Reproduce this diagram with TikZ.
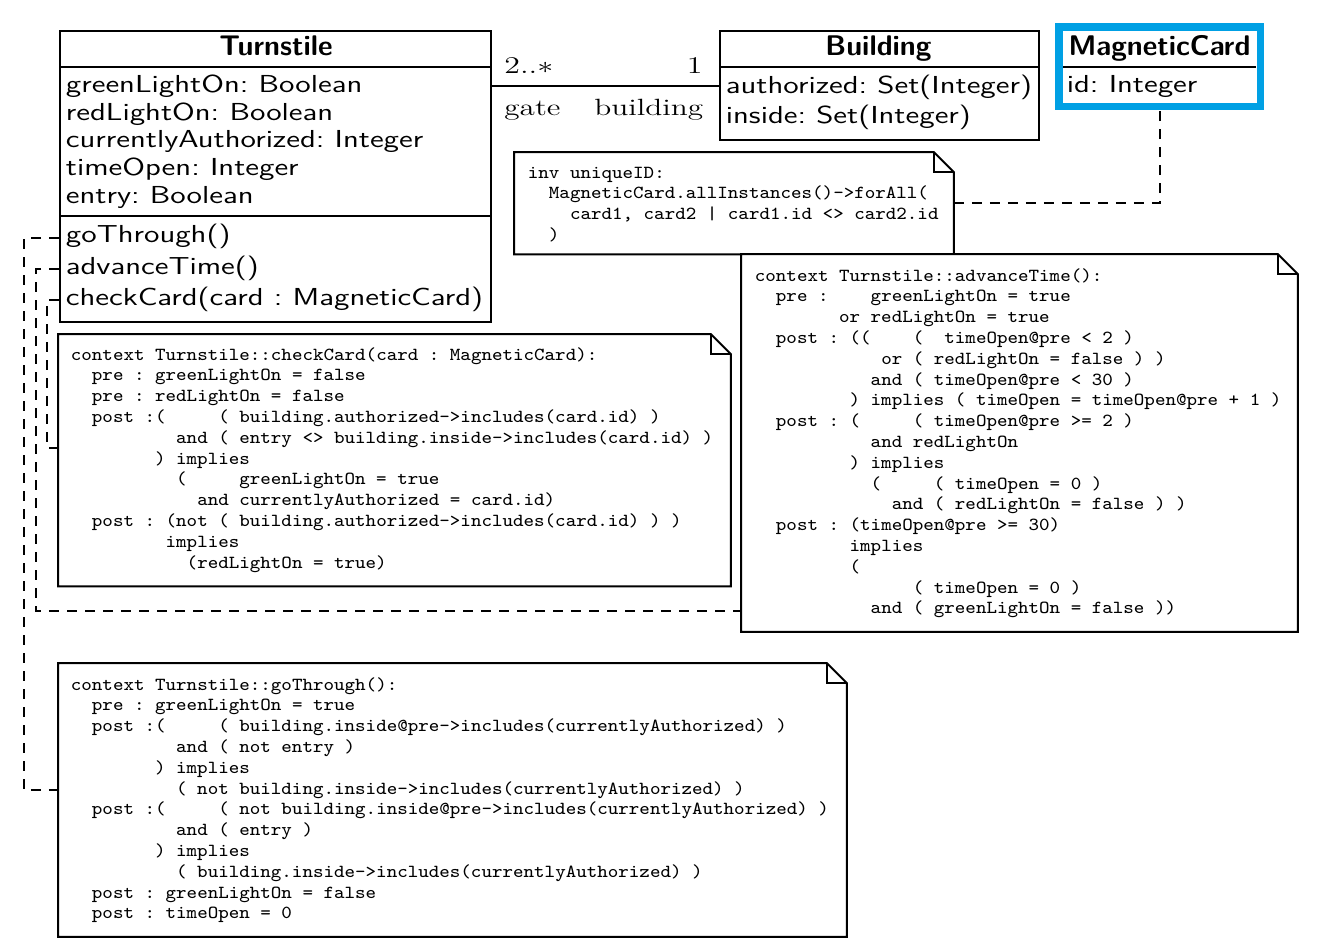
\documentclass[tikz,border=0pt]{standalone}
\usepackage{graphicx}
\definecolor{cardblue}{RGB}{0,160,228}

% horizontally widened text
\newcommand\wx[2]{\scalebox{#1}[1]{#2}}
\newcommand\hdrfont{\fontsize{14.2}{16}\selectfont\sffamily\bfseries}
\newcommand\clsfont{\fontsize{12.3}{14}\selectfont\sffamily}
\newcommand\rolefont{\fontsize{11.75}{14}\selectfont\rmfamily}
\newcommand\oclfont{\fontsize{9.2}{10.4}\selectfont\ttfamily}
% one block of OCL text, one line per row
\newcommand\ocl[1]{\wx{1.09}{\oclfont\begin{tabular}[t]{@{}l@{}}#1\end{tabular}}}

\tikzset{
  box/.style={draw, line width=1pt, inner sep=0pt, anchor=north west},
  sep/.style={line width=1pt},
  hdr/.style={inner sep=0pt, anchor=base, font=\hdrfont},
  attr/.style={inner sep=0pt, anchor=base west, font=\clsfont},
  role/.style={inner sep=0pt, font=\rolefont},
  notearea/.style={inner sep=0pt, anchor=north west},
  notebody/.style={inner sep=0pt, anchor=base west},
  noteframe/.style={line width=1pt, fill=white},
  conn/.style={line width=1pt, dash pattern=on 5pt off 4pt},
}

% dog-eared outline of a note node
\newcommand\notefold[1]{%
  \draw[noteframe] (#1.north west) -- ([xshift=-10pt]#1.north east)
    -- ([yshift=-10pt]#1.north east) -- (#1.south east) -- (#1.south west) -- cycle;
  \draw[line width=1pt] ([xshift=-10pt]#1.north east)
    -- ([xshift=-10pt,yshift=-10pt]#1.north east) -- ([yshift=-10pt]#1.north east);}

\begin{document}
\frenchspacing
\begin{tikzpicture}[x=0.5pt,y=-0.5pt]
\useasboundingbox (0,0) rectangle (1324,948);

% guide coordinates
\path (0,66.7) coordinate (hdrline) (0,216) coordinate (opline) (0,85.7) coordinate (assoc)
      (0,238) coordinate (yGo) (0,269) coordinate (yAdv) (0,300) coordinate (yChk)
      (24,0) coordinate (xGo) (36,0) coordinate (xAdv) (47,0) coordinate (xChk)
      (0,790) coordinate (yGoIn) (0,611) coordinate (yAdvIn) (0,448) coordinate (yChkIn)
      (1160,0) coordinate (xCard) (0,203) coordinate (yUid);

% ---------- classes ----------
\node[box, minimum width=215.5pt, minimum height=145.5pt] (ts) at (59,30) {};
\draw[sep] (ts.west |- hdrline) -- (ts.east |- hdrline);
\draw[sep] (ts.west |- opline) -- (ts.east |- opline);
\node[hdr] (tsName) at (276,55) {Turnstile};
\node[attr] (tsA1) at (65.5,92.7)  {\wx{1.28}{greenLightOn: Boolean}};
\node[attr] (tsA2) at (65.5,120.3) {\wx{1.28}{redLightOn: Boolean}};
\node[attr] (tsA3) at (65.5,147.9) {\wx{1.28}{currentlyAuthorized: Integer}};
\node[attr] (tsA4) at (65.5,175.5) {\wx{1.28}{timeOpen: Integer}};
\node[attr] (tsA5) at (65.5,203.1) {\wx{1.28}{entry: Boolean}};
\node[attr] (tsO1) at (65.5,242.5) {\wx{1.28}{goThrough()}};
\node[attr] (tsO2) at (65.5,274)   {\wx{1.28}{advanceTime()}};
\node[attr] (tsO3) at (65.5,305.5) {\wx{1.28}{checkCard(card : MagneticCard)}};

\node[box, minimum width=159.5pt, minimum height=54.5pt] (bd) at (719,30) {};
\draw[sep] (bd.west |- hdrline) -- (bd.east |- hdrline);
\node[hdr] (bdName) at (878.5,55) {Building};
\node[attr] (bdA1) at (725.5,93.5) {\wx{1.28}{authorized: Set(Integer)}};
\node[attr] (bdA2) at (725.5,123)  {\wx{1.28}{inside: Set(Integer)}};

% association gate -- building
\draw[sep] (ts.east |- assoc) -- (bd.west |- assoc);
\node[role, anchor=base west] (mGate) at (504,73.3) {\wx{1.33}{$2..*$}};
\node[role, anchor=base east] (mBld) at (703,73.3) {\wx{1.33}{$1$}};
\node[role, anchor=base west] (rGate) at (504,115.7) {\wx{1.33}{gate}};
\node[role, anchor=base east] (rBld) at (703.5,115.7) {\wx{1.33}{building}};

% ---------- notes and their links ----------
\node[notearea, minimum width=219.5pt, minimum height=50.75pt] (nUid) at (514,152) {};
\node[notearea, minimum width=278pt, minimum height=188.5pt] (nAdv) at (741,254) {};
\node[notearea, minimum width=336pt, minimum height=125.75pt] (nChk) at (58,334) {};
\node[notearea, minimum width=394pt, minimum height=136.5pt] (nGo) at (58,663) {};

\node[draw=none, inner sep=0pt, minimum width=100.25pt, minimum height=39.25pt, anchor=north west] (mc) at (1059,27) {};

\draw[conn] (ts.west |- yGo) -| (xGo |- yGoIn) -- (nGo.west |- yGoIn);
\draw[conn] (ts.west |- yAdv) -| (xAdv |- yAdvIn) -- (nAdv.west |- yAdvIn);
\draw[conn] (ts.west |- yChk) -| (xChk |- yChkIn) -- (nChk.west |- yChkIn);
\draw[conn] (nUid.east |- yUid) -| (mc.south -| xCard);

\notefold{nUid}
\notefold{nAdv}
\notefold{nChk}
\notefold{nGo}

\node[notebody] (tUid) at (527.5,178) {\ocl{%
inv uniqueID:\\
~~MagneticCard.allInstances()->forAll(\\
~~~~card1, card2 | card1.id <> card2.id\\
~~)}};

\node[notebody] (tAdv) at (754.5,281) {\ocl{%
context Turnstile::advanceTime():\\
~~pre :~~~~greenLightOn = true\\
~~~~~~~~or redLightOn = true\\
~~post : ((~~~~(~~timeOpen@pre < 2 )\\
~~~~~~~~~~~~or ( redLightOn = false ) )\\
~~~~~~~~~~~and ( timeOpen@pre < 30 )\\
~~~~~~~~~) implies ( timeOpen = timeOpen@pre + 1 )\\
~~post : (~~~~~( timeOpen@pre >= 2 )\\
~~~~~~~~~~~and redLightOn\\
~~~~~~~~~) implies\\
~~~~~~~~~~~(~~~~~( timeOpen = 0 )\\
~~~~~~~~~~~~~and ( redLightOn = false ) )\\
~~post : (timeOpen@pre >= 30)\\
~~~~~~~~~implies\\
~~~~~~~~~(\\
~~~~~~~~~~~~~~~( timeOpen = 0 )\\
~~~~~~~~~~~and ( greenLightOn = false ))}};

\node[notebody] (tChk) at (70.5,360) {\ocl{%
context Turnstile::checkCard(card : MagneticCard):\\
~~pre : greenLightOn = false\\
~~pre : redLightOn = false\\
~~post :(~~~~~( building.authorized->includes(card.id) )\\
~~~~~~~~~~and ( entry <> building.inside->includes(card.id) )\\
~~~~~~~~) implies\\
~~~~~~~~~~(~~~~~greenLightOn = true\\
~~~~~~~~~~~~and currentlyAuthorized = card.id)\\
~~post : (not ( building.authorized->includes(card.id) ) )\\
~~~~~~~~~implies\\
~~~~~~~~~~~(redLightOn = true)}};

\node[notebody] (tGo) at (70.5,690) {\ocl{%
context Turnstile::goThrough():\\
~~pre : greenLightOn = true\\
~~post :(~~~~~( building.inside@pre->includes(currentlyAuthorized) )\\
~~~~~~~~~~and ( not entry )\\
~~~~~~~~) implies\\
~~~~~~~~~~( not building.inside->includes(currentlyAuthorized) )\\
~~post :(~~~~~( not building.inside@pre->includes(currentlyAuthorized) )\\
~~~~~~~~~~and ( entry )\\
~~~~~~~~) implies\\
~~~~~~~~~~( building.inside->includes(currentlyAuthorized) )\\
~~post : greenLightOn = false\\
~~post : timeOpen = 0}};

% ---------- MagneticCard ----------
\draw[sep, shorten <=2pt, shorten >=2pt] (mc.west |- hdrline) -- (mc.east |- hdrline);
\draw[cardblue, line width=3.75pt] (mc.north west) rectangle (mc.south east);
\node[hdr] (mcName) at (1159.5,55) {MagneticCard};
\node[attr] (mcA1) at (1066.5,92.5) {\wx{1.28}{id: Integer}};

\end{tikzpicture}
\end{document}
